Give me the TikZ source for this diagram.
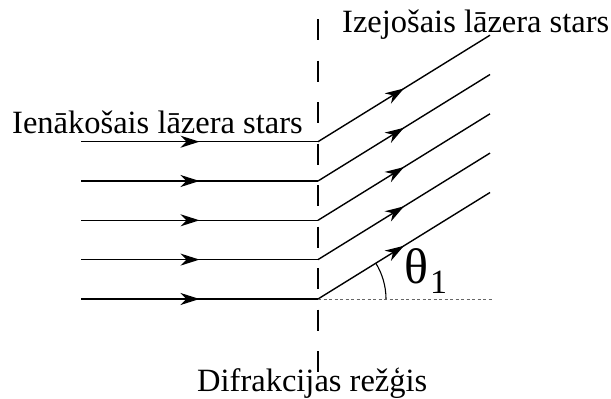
\documentclass[tikz,border=0pt]{standalone}
\usepackage{fontspec}
\setmainfont{Liberation Serif}
\usetikzlibrary{arrows.meta,decorations.markings,calc}
\begin{document}
\begin{tikzpicture}[x=1pt,y=-1pt,
  ray/.style={line width=1.4pt,postaction={decorate},
    decoration={markings,mark=at position 0.5 with {\arrow{Stealth[length=19pt,width=12pt,inset=6pt]}}}},
  grating/.style={line width=2pt,dash pattern=on 21pt off 20.5pt},
  refline/.style={line width=0.9pt,gray!80!black,dash pattern=on 3pt off 2.5pt},
  lbl/.style={font=\fontsize{32.5}{38}\selectfont,inner sep=0pt,anchor=base west}]
\useasboundingbox (0,0) rectangle (611,399);
\coordinate (gtop) at (318,19);
\coordinate (gbot) at (318,372);
\draw[grating] (gtop) -- (gbot);
\foreach \i/\y in {1/141.7,2/181,3/220.3,4/259.6,5/299}{
  \coordinate (L\i) at (81,\y);
  \coordinate (G\i) at (318,\y);
  \coordinate (R\i) at ($(G\i)+(172,-106.5)$);
  \draw[ray] (L\i) -- (G\i);
  \draw[ray] (G\i) -- (R\i);
}
\coordinate (H) at (493,299);
\draw[refline] (G5) -- (H);
\draw[line width=1.1pt] ($(G5)+(68,0)$) arc[start angle=0,end angle=-32,radius=68];
\node[lbl] (inc) at (12,133) {Ienākošais lāzera stars};
\node[lbl] (out) at (342,32) {Izejošais lāzera stars};
\node[lbl] (dif) at (197,391) {Difrakcijas režģis};
\node[inner sep=0pt,anchor=base west] (th) at (404,283) {\fontsize{50}{52}\selectfont θ};
\node[inner sep=0pt,anchor=base west] (one) at (430,293) {\fontsize{34}{36}\selectfont 1};
\end{tikzpicture}
\end{document}
